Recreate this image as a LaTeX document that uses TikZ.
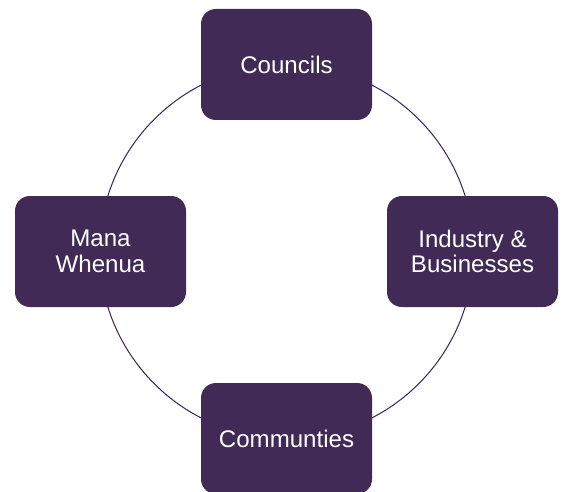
\documentclass[tikz,border=0pt]{standalone}
\usepackage{fontspec}
\setmainfont{Liberation Sans}
\usepackage{tikz}
\usetikzlibrary{positioning}
\definecolor{hubpurple}{HTML}{412A55}

\begin{document}
\begin{tikzpicture}[
    every node/.style={font=\fontsize{13.7}{14.6}\selectfont},
    box/.style={
        rectangle,
        rounded corners=8.5pt,
        fill=hubpurple,
        draw=none,
        minimum height=2.22cm,
        minimum width=3.42cm,
        align=center,
        text=white
    },
    ring/.style={
        draw=hubpurple,
        line width=0.6pt
    }
]
\useasboundingbox (0,0) rectangle (11.24,-9.82);

% Centre of the cycle
\coordinate (hub) at (5.73,-5.03);

% Ring behind the boxes
\draw[ring] (hub) circle[radius=3.74];

% Boxes round the ring
\node[box] (councils) at ([shift={(90:3.74)}]hub) {Councils};
\node[box] (industry) at ([shift={(0:3.72)}]hub) {Industry \&\\Businesses};
\node[box] (communities) at ([shift={(270:3.74)}]hub) {Communties};
\node[box] (mana) at ([shift={(180:3.72)}]hub) {Mana\\Whenua};

\end{tikzpicture}
\end{document}
